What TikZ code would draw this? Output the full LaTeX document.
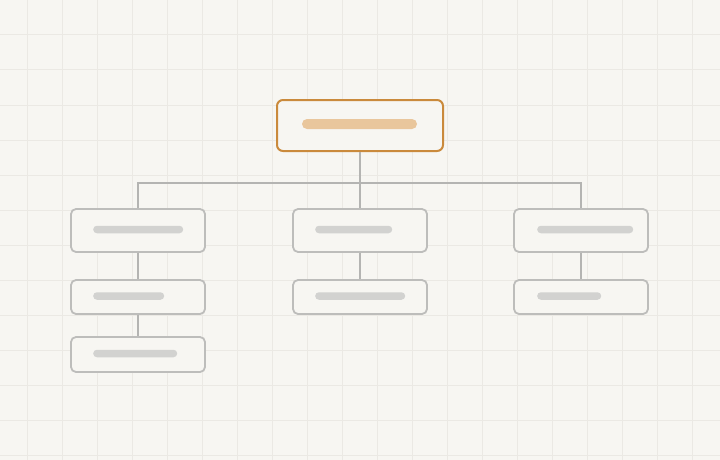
\documentclass[tikz,border=0pt]{standalone}
\definecolor{bg}{HTML}{F7F6F2}
\definecolor{gridc}{HTML}{EBE9E4}
\definecolor{edgec}{HTML}{BDBDBB}
\definecolor{connc}{HTML}{B4B4B2}
\definecolor{barc}{HTML}{D2D2D0}
\definecolor{rootc}{HTML}{CA8A3C}
\definecolor{rootbar}{HTML}{E9C69C}
\begin{document}
\begin{tikzpicture}[x=1pt,y=-1pt,
  box/.style={draw=edgec, line width=1.8pt, rounded corners=5pt, fill=bg, inner sep=0pt, minimum width=134pt},
  rootbox/.style={draw=rootc, line width=2pt, rounded corners=6pt, fill=bg, inner sep=0pt, minimum width=166pt, minimum height=51pt},
  bar/.style={fill=barc, rounded corners=3.7pt, inner sep=0pt, minimum height=7.5pt, anchor=west},
  rbar/.style={fill=rootbar, rounded corners=5pt, inner sep=0pt, minimum height=10pt, minimum width=115pt},
  conn/.style={draw=connc, line width=1.6pt},
  gridline/.style={draw=gridc, line width=1pt}]
\fill[bg] (0,0) rectangle (720,460);
\useasboundingbox (0,0) rectangle (720,460);
\foreach \i in {0,...,19} \draw[gridline] (27.5+35*\i,0) -- (27.5+35*\i,460);
\foreach \j in {1,...,13} \draw[gridline] (0,35*\j) -- (720,35*\j);

% root
\node[rootbox] (root) at (360,125.5) {};
\node[rbar] (rootb) at (359.5,124) {};

% row 1
\node[box, minimum height=43pt] (a1) at (138,230.5) {};
\node[box, minimum height=43pt] (b1) at (360,230.5) {};
\node[box, minimum height=43pt] (c1) at (581,230.5) {};
% row 2
\node[box, minimum height=34pt] (a2) at (138,297) {};
\node[box, minimum height=34pt] (b2) at (360,297) {};
\node[box, minimum height=34pt] (c2) at (581,297) {};
% row 3
\node[box, minimum height=35pt] (a3) at (138,354.5) {};

% bars
\node[bar, minimum width=90pt] (a1b) at (93,229.5) {};
\node[bar, minimum width=77pt] (b1b) at (315,229.5) {};
\node[bar, minimum width=96pt] (c1b) at (537,229.5) {};
\node[bar, minimum width=71pt] (a2b) at (93,296) {};
\node[bar, minimum width=90pt] (b2b) at (315,296) {};
\node[bar, minimum width=64pt] (c2b) at (537,296) {};
\node[bar, minimum width=84pt] (a3b) at (93,353.5) {};

% connectors
\coordinate (bus) at (360,183);
\draw[conn] (root.south) -- (bus);
\draw[conn] (a1.north) |- (bus) -| (c1.north);
\draw[conn] (bus) -- (b1.north);
\draw[conn] (a1.south) -- (a2.north);
\draw[conn] (a2.south) -- (a3.north);
\draw[conn] (b1.south) -- (b2.north);
\draw[conn] (c1.south) -- (c2.north);
\end{tikzpicture}
\end{document}
